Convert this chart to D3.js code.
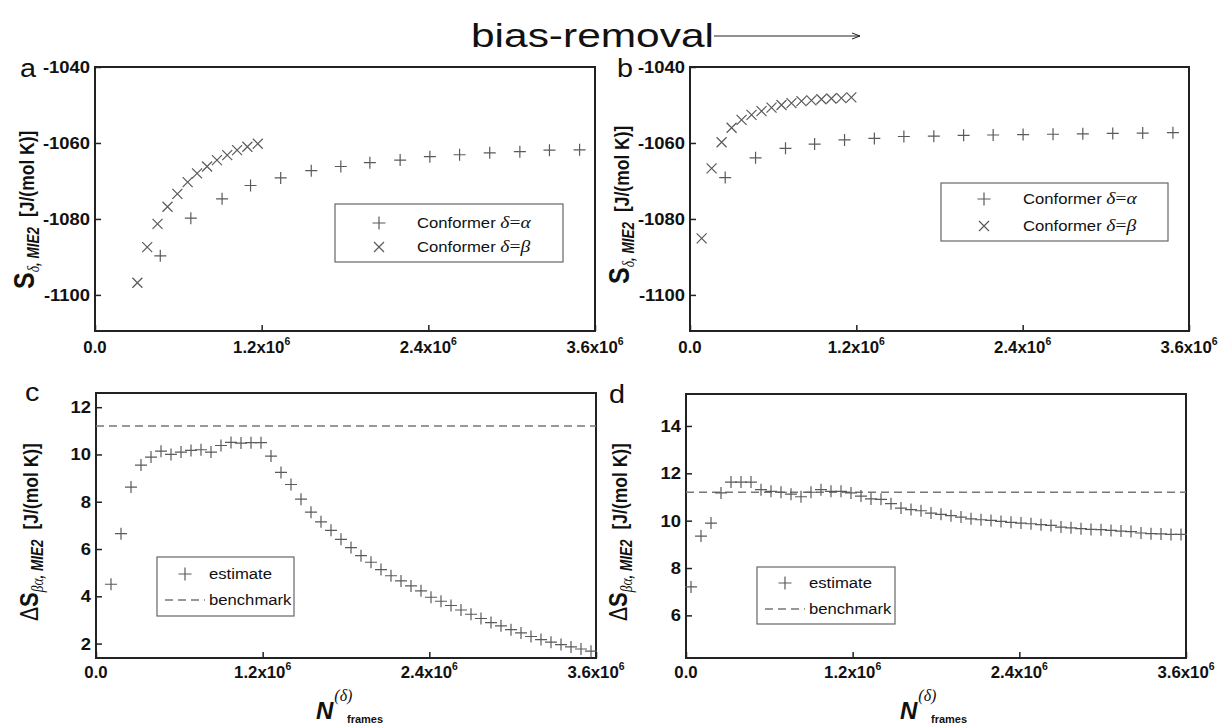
<!DOCTYPE html>
<html>
<head>
<meta charset="utf-8">
<script src="https://cdn.jsdelivr.net/npm/d3@7"></script>
<style>
  body { margin: 0; background: #fff; }
  text { font-family: Arial, "Liberation Sans", sans-serif; fill: #111; }
</style>
</head>
<body>
<svg id="fig" width="1218" height="727"></svg>
<script>
// values (x in units of 1e6 frames)
var aAlphaX = [0.47, 0.69, 0.915, 1.12, 1.337, 1.557, 1.77, 1.979, 2.197, 2.411, 2.625, 2.842, 3.059, 3.272, 3.489];
var aAlphaY = [-1089.7, -1079.8, -1074.7, -1071.2, -1069.2, -1067.3, -1066.2, -1065.2, -1064.5, -1063.6, -1063.1, -1062.6, -1062.3, -1061.9, -1061.8];
var aBetaX = [0.305, 0.376, 0.45, 0.522, 0.593, 0.667, 0.735, 0.807, 0.878, 0.952, 1.023, 1.097, 1.172];
var aBetaY = [-1096.8, -1087.4, -1081.3, -1076.8, -1073.4, -1070.3, -1068.0, -1066.2, -1064.5, -1063.2, -1061.9, -1061.0, -1060.2];

var bAlphaX = [0.254, 0.473, 0.689, 0.899, 1.115, 1.33, 1.543, 1.759, 1.974, 2.187, 2.403, 2.619, 2.834, 3.05, 3.266, 3.484];
var bAlphaY = [-1069.1, -1063.9, -1061.4, -1060.3, -1059.2, -1058.8, -1058.3, -1058.2, -1058.0, -1057.9, -1057.8, -1057.7, -1057.6, -1057.5, -1057.4, -1057.3];
var bBetaX = [0.084, 0.156, 0.228, 0.3, 0.372, 0.444, 0.516, 0.588, 0.66, 0.732, 0.804, 0.876, 0.948, 1.02, 1.092, 1.164];
var bBetaY = [-1085.1, -1066.7, -1059.8, -1056.0, -1053.9, -1052.6, -1051.6, -1050.7, -1050.0, -1049.5, -1049.0, -1048.8, -1048.5, -1048.3, -1048.2, -1048.0];

var cX = [0.108, 0.18, 0.252, 0.324, 0.396, 0.468, 0.54, 0.612, 0.684, 0.756, 0.828, 0.9, 0.972, 1.044, 1.116, 1.188,
          1.26, 1.332, 1.404, 1.476, 1.548, 1.62, 1.692, 1.764, 1.836, 1.908, 1.98, 2.052, 2.124, 2.196, 2.268, 2.34,
          2.412, 2.484, 2.556, 2.628, 2.7, 2.772, 2.844, 2.916, 2.988, 3.06, 3.132, 3.204, 3.276, 3.348, 3.42, 3.492, 3.564];
var cY = [4.51, 6.65, 8.62, 9.55, 9.89, 10.14, 10.0, 10.1, 10.17, 10.2, 10.1, 10.38, 10.51, 10.48, 10.5, 10.5,
          9.93, 9.24, 8.73, 8.11, 7.56, 7.15, 6.79, 6.41, 6.06, 5.72, 5.44, 5.13, 4.87, 4.65, 4.44, 4.23,
          3.96, 3.79, 3.61, 3.42, 3.24, 3.06, 2.89, 2.75, 2.59, 2.45, 2.3, 2.17, 2.06, 1.96, 1.86, 1.77, 1.68];

var dX = [0.036, 0.108, 0.18, 0.252, 0.324, 0.396, 0.468, 0.54, 0.612, 0.684, 0.756, 0.828, 0.9, 0.972, 1.044, 1.116, 1.188,
          1.26, 1.332, 1.404, 1.476, 1.548, 1.62, 1.692, 1.764, 1.836, 1.908, 1.98, 2.052, 2.124, 2.196, 2.268, 2.34,
          2.412, 2.484, 2.556, 2.628, 2.7, 2.772, 2.844, 2.916, 2.988, 3.06, 3.132, 3.204, 3.276, 3.348, 3.42, 3.492, 3.564];
var dY = [7.2, 9.35, 9.9, 11.17, 11.63, 11.63, 11.63, 11.31, 11.24, 11.2, 11.12, 11.01, 11.2, 11.31, 11.24, 11.24, 11.17,
          11.04, 10.92, 10.9, 10.72, 10.53, 10.47, 10.42, 10.32, 10.27, 10.21, 10.15, 10.08, 10.04, 10.01, 9.97, 9.93,
          9.9, 9.87, 9.83, 9.8, 9.73, 9.7, 9.66, 9.63, 9.62, 9.59, 9.56, 9.54, 9.48, 9.45, 9.44, 9.42, 9.42];

var benchmark = 11.2;
var xTicks = [0, 1.2, 2.4, 3.6];
var xTickLabels = ["0.0", "1.2x10", "2.4x10", "3.6x10"];
var topYTicks = [-1040, -1060, -1080, -1100];
var cYTicks = [2, 4, 6, 8, 10, 12];
var dYTicks = [6, 8, 10, 12, 14];

var SX = 1.15; // the figure's text is stretched sideways a bit
var markColor = "#5a5a5a";

var svg = d3.select("#fig");

// title with arrow
svg.append("text")
    .attr("x", 471).attr("y", 47)
    .attr("font-size", 33)
    .attr("textLength", 243).attr("lengthAdjust", "spacingAndGlyphs")
    .text("bias-removal");
svg.append("path")
    .attr("d", "M714,36H860M852,33L860,36L852,39")
    .attr("fill", "none").attr("stroke", "#222").attr("stroke-width", 1);

function stext(parent, x, y, anchor, sx) {
    return parent.append("g")
        .attr("transform", "translate(" + x + "," + y + ") scale(" + (sx || SX) + ",1)")
        .append("text")
        .attr("text-anchor", anchor);
}

var symbols = {
    plus: "M-6,0H6M0,-6V6",
    cross: "M-5,-5L5,5M-5,5L5,-5"
};

var panels = [
    { letter: "a", lx: 20, ly: 77, box: [95, 67, 595, 331], yDomain: [-1109.5, -1040], yTicks: topYTicks,
      xLabY: 353, series: [{ x: aAlphaX, y: aAlphaY, sym: "plus" }, { x: aBetaX, y: aBetaY, sym: "cross" }],
      kind: "S", tx: 34, ty: 289,
      legend: { box: [335, 204, 563, 262], sx: 379, tx: 417, rows: [223, 247] } },
    { letter: "b", lx: 617, ly: 77, box: [690, 67, 1189, 331], yDomain: [-1109.5, -1040], yTicks: topYTicks,
      xLabY: 353, series: [{ x: bAlphaX, y: bAlphaY, sym: "plus" }, { x: bBetaX, y: bBetaY, sym: "cross" }],
      kind: "S", tx: 629, ty: 284,
      legend: { box: [941, 183, 1168, 241], sx: 984, tx: 1023, rows: [199, 226] } },
    { letter: "c", lx: 25, ly: 401, box: [96, 393, 596, 658], yDomain: [1.39, 12.6], yTicks: cYTicks,
      xLabY: 678, series: [{ x: cX, y: cY, sym: "plus" }], bench: true,
      kind: "dS", tx: 38, ty: 621, nx: 316,
      legend: { box: [157, 557, 294, 616], sx: 185, tx: 209, rows: [574, 600] } },
    { letter: "d", lx: 609, ly: 403, box: [686, 394, 1186, 658], yDomain: [4.2, 15.35], yTicks: dYTicks,
      xLabY: 678, series: [{ x: dX, y: dY, sym: "plus" }], bench: true,
      kind: "dS", tx: 627, ty: 621, nx: 900,
      legend: { box: [757, 567, 895, 624], sx: 785, tx: 809, rows: [583, 609] } }
];

panels.forEach(function (p) {
    var g = svg.append("g");
    var x = d3.scaleLinear().domain([0, 3.6]).range([p.box[0], p.box[2]]);
    var y = d3.scaleLinear().domain(p.yDomain).range([p.box[3], p.box[1]]);

    // inward ticks
    g.append("g")
        .attr("transform", "translate(0," + p.box[3] + ")")
        .call(d3.axisBottom(x).tickValues(xTicks).tickSizeInner(-6).tickSizeOuter(0).tickFormat(""))
        .call(function (a) { a.select(".domain").remove(); a.selectAll("line").attr("stroke", "#222").attr("stroke-width", 1.5); });
    g.append("g")
        .attr("transform", "translate(" + p.box[0] + ",0)")
        .call(d3.axisLeft(y).tickValues(p.yTicks).tickSizeInner(-6).tickSizeOuter(0).tickFormat(""))
        .call(function (a) { a.select(".domain").remove(); a.selectAll("line").attr("stroke", "#222").attr("stroke-width", 1.5); });

    // frame
    g.append("rect")
        .attr("x", p.box[0]).attr("y", p.box[1])
        .attr("width", p.box[2] - p.box[0]).attr("height", p.box[3] - p.box[1])
        .attr("fill", "none").attr("stroke", "#222").attr("stroke-width", 2);

    // tick labels
    xTicks.forEach(function (t, i) {
        var tx = stext(g, x(t), p.xLabY, "middle", 1.05).attr("font-size", 16).attr("font-weight", "bold");
        tx.append("tspan").text(xTickLabels[i]);
        if (i > 0) tx.append("tspan").attr("dy", -8).attr("font-size", 10).text("6");
    });
    p.yTicks.forEach(function (t) {
        stext(g, p.box[0] - 5, y(t) + 6, "end")
            .attr("font-size", 16).attr("font-weight", "bold").text(t);
    });

    // panel letter
    stext(g, p.lx, p.ly, "start").attr("font-size", 25).text(p.letter);

    // benchmark line
    if (p.bench) {
        g.append("line")
            .attr("x1", p.box[0]).attr("x2", p.box[2])
            .attr("y1", y(benchmark)).attr("y2", y(benchmark))
            .attr("stroke", "#777").attr("stroke-width", 1.5).attr("stroke-dasharray", "8,5");
    }

    // markers
    p.series.forEach(function (s) {
        g.append("g").selectAll("path")
            .data(s.x.map(function (v, i) { return [v, s.y[i]]; }))
            .enter().append("path")
            .attr("transform", function (d) { return "translate(" + x(d[0]) + "," + y(d[1]) + ")"; })
            .attr("d", symbols[s.sym])
            .attr("fill", "none").attr("stroke", markColor).attr("stroke-width", 1.2);
    });

    // legend
    var L = p.legend;
    g.append("rect")
        .attr("x", L.box[0]).attr("y", L.box[1])
        .attr("width", L.box[2] - L.box[0]).attr("height", L.box[3] - L.box[1])
        .attr("fill", "#fff").attr("stroke", "#666").attr("stroke-width", 1.2);
    g.append("path")
        .attr("transform", "translate(" + L.sx + "," + L.rows[0] + ")")
        .attr("d", "M-6.5,0H6.5M0,-6.5V6.5")
        .attr("fill", "none").attr("stroke", markColor).attr("stroke-width", 1.2);
    if (p.kind === "S") {
        g.append("path")
            .attr("transform", "translate(" + L.sx + "," + L.rows[1] + ")")
            .attr("d", symbols.cross)
            .attr("fill", "none").attr("stroke", markColor).attr("stroke-width", 1.2);
        ["\u03b1", "\u03b2"].forEach(function (gr, i) {
            var t = stext(g, L.tx, L.rows[i] + 5, "start").attr("font-size", 14.5);
            t.append("tspan").text("Conformer ");
            t.append("tspan").attr("font-family", "'Liberation Serif', 'DejaVu Serif', serif")
                .attr("font-size", 17).attr("font-style", "italic").text("\u03b4");
            t.append("tspan").attr("font-family", "'Liberation Serif', serif").attr("font-size", 17).text("=");
            t.append("tspan").attr("font-family", "'Liberation Serif', 'DejaVu Serif', serif")
                .attr("font-size", 17).attr("font-style", "italic").text(gr);
        });
    } else {
        g.append("line")
            .attr("x1", L.sx - 20).attr("x2", L.tx - 4)
            .attr("y1", L.rows[1]).attr("y2", L.rows[1])
            .attr("stroke", "#777").attr("stroke-width", 1.5).attr("stroke-dasharray", "8,5");
        stext(g, L.tx, L.rows[0] + 5, "start").attr("font-size", 14.5).text("estimate");
        stext(g, L.tx, L.rows[1] + 5, "start").attr("font-size", 14.5).text("benchmark");
    }

    // y-axis title, rotated (thickened sideways like the figure)
    var yt = g.append("text")
        .attr("transform", "translate(" + p.tx + "," + p.ty + ") scale(1.2,1) rotate(-90)")
        .attr("font-weight", "bold");
    if (p.kind === "S") {
        yt.append("tspan").attr("font-size", 25).text("S");
        yt.append("tspan").attr("dy", 4).attr("font-size", 13.5)
            .attr("font-family", "'Liberation Serif', serif").attr("font-style", "italic").attr("font-weight", "normal").text("\u03b4");
        yt.append("tspan").attr("font-size", 13.5).attr("font-style", "italic").text(", MIE2");
    } else {
        yt.append("tspan").attr("font-size", 21).attr("font-weight", "normal").text("\u0394");
        yt.append("tspan").attr("font-size", 22).text("S");
        yt.append("tspan").attr("dy", 4).attr("font-size", 13.5)
            .attr("font-family", "'Liberation Serif', serif").attr("font-style", "italic").attr("font-weight", "normal").text("\u03b2\u03b1");
        yt.append("tspan").attr("font-size", 13.5).attr("font-style", "italic").text(", MIE2");
    }
    yt.append("tspan").attr("dy", -4).attr("dx", 10).attr("font-size", 17.5).text("[J/(mol K)]");

    // x-axis title for the lower panels
    if (p.nx) {
        var nt = g.append("text").attr("x", p.nx).attr("y", 719)
            .attr("font-size", 24).attr("font-weight", "bold").attr("font-style", "italic");
        nt.append("tspan").text("N");
        nt.append("tspan").attr("dy", -18).attr("dx", 1).attr("font-size", 16).attr("font-weight", "normal")
            .attr("font-family", "'Liberation Serif', serif").text("(\u03b4)");
        g.append("text").attr("x", p.nx + 31).attr("y", 723)
            .attr("font-size", 11).attr("font-weight", "bold").text("frames");
    }
});
</script>
</body>
</html>
